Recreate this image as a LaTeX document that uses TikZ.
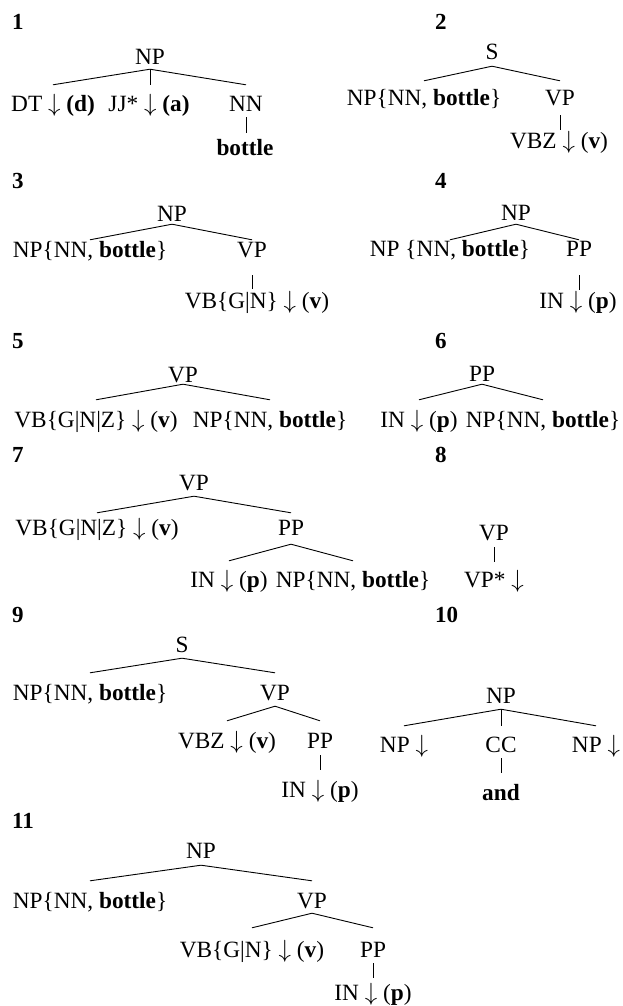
\documentclass[tikz,border=0pt]{standalone}
\usepackage{fontspec}
\setmainfont{Liberation Serif}
\newcommand{\dn}{$\downarrow$}
\newcommand{\lb}{\{}
\newcommand{\rb}{\}}
\newcommand{\vbar}{\textbar}
\begin{document}
\begin{tikzpicture}[x=1pt,y=-1pt,
  tn/.style={anchor=base, inner sep=0pt, text height=17pt, text depth=5pt, font=\fontsize{23.3}{27}\selectfont},
  lab/.style={anchor=base west, inner sep=0pt, font=\fontsize{23}{27}\selectfont\bfseries},
  conn/.style={line width=0.9pt}]
\useasboundingbox (0,0) rectangle (623,1006);

% ---- tree 1
\node[lab] (l1) at (12,30) {1};
\node[tn,text depth=4pt] (np1) at (150,65) {NP};
\node[tn,text height=27pt] (dt1) at (53,112) {DT \dn{} \textbf{(d)}};
\node[tn,text height=27pt] (jj1) at (149,112) {JJ* \dn{} \textbf{(a)}};
\node[tn,text height=27pt,text depth=5pt] (nn1) at (246,112) {NN};
\node[tn,text height=22pt] (bo1) at (245,155) {\textbf{bottle}};
\draw[conn] (np1.south) -- (dt1.north);
\draw[conn] (np1.south) -- (np1.south |- jj1.north);
\draw[conn] (np1.south) -- (nn1.north);
\draw[conn] (nn1.south) -- (nn1.south |- bo1.north);

% ---- tree 2
\node[lab] (l2) at (435,30) {2};
\node[tn,text depth=6pt] (s2) at (492,60) {S};
\node[tn,text height=25pt] (np2) at (424,106) {NP\lb NN, \textbf{bottle}\rb};
\node[tn,text height=25pt,text depth=9pt] (vp2) at (560,106) {VP};
\node[tn,text height=18pt] (vbz2) at (559,148) {VBZ \dn{} (\textbf{v})};
\draw[conn] (s2.south) -- (np2.north);
\draw[conn] (s2.south) -- (vp2.north);
\draw[conn] (vp2.south) -- (vp2.south |- vbz2.north);

% ---- tree 3
\node[lab] (l3) at (12,188) {3};
\node[tn,text depth=3pt] (np3) at (172,221) {NP};
\node[tn,text height=17pt] (np3b) at (90,257) {NP\lb NN, \textbf{bottle}\rb};
\node[tn,text height=17pt,text depth=18pt] (vp3) at (252,257) {VP};
\node[tn,text height=19pt] (vb3) at (257,308) {VB\lb G\vbar N\rb{} \dn{} (\textbf{v})};
\draw[conn] (np3.south) -- (np3b.north);
\draw[conn] (np3.south) -- (vp3.north);
\draw[conn] (vp3.south) -- (vp3.south |- vb3.north);

% ---- tree 4
\node[lab] (l4) at (435,188) {4};
\node[tn,text depth=4pt] (np4) at (516,220) {NP};
\node[tn,text height=16pt] (np4b) at (450,256) {NP \lb NN, \textbf{bottle}\rb};
\node[tn,text height=16pt,text depth=19pt] (pp4) at (579,256) {PP};
\node[tn,text height=18pt] (in4) at (578,308) {IN \dn{} (\textbf{p})};
\draw[conn] (np4.south) -- (np4b.north);
\draw[conn] (np4.south) -- (pp4.north);
\draw[conn] (pp4.south) -- (pp4.south |- in4.north);

% ---- tree 5
\node[lab] (l5) at (12,348) {5};
\node[tn,text depth=2pt] (vp5) at (183,382) {VP};
\node[tn,text height=27pt] (vb5) at (96,427) {VB\lb G\vbar N\vbar Z\rb{} \dn{} (\textbf{v})};
\node[tn,text height=27pt] (np5) at (270,427) {NP\lb NN, \textbf{bottle}\rb};
\draw[conn] (vp5.south) -- (vb5.north);
\draw[conn] (vp5.south) -- (np5.north);

% ---- tree 6
\node[lab] (l6) at (435,348) {6};
\node[tn,text depth=3pt] (pp6) at (482,381) {PP};
\node[tn,text height=27pt] (in6) at (419,427) {IN \dn{} (\textbf{p})};
\node[tn,text height=27pt] (np6) at (543,427) {NP\lb NN, \textbf{bottle}\rb};
\draw[conn] (pp6.south) -- (in6.north);
\draw[conn] (pp6.south) -- (np6.north);

% ---- tree 7
\node[lab] (l7) at (12,462) {7};
\node[tn,text depth=6pt] (vp7) at (194,490) {VP};
\node[tn,text height=22pt] (vb7) at (97,535) {VB\lb G\vbar N\vbar Z\rb{} \dn{} (\textbf{v})};
\node[tn,text height=22pt,text depth=9pt] (pp7) at (291,535) {PP};
\node[tn,text height=26pt] (in7) at (229,587) {IN \dn{} (\textbf{p})};
\node[tn,text height=26pt] (np7) at (353,587) {NP\lb NN, \textbf{bottle}\rb};
\draw[conn] (vp7.south) -- (vb7.north);
\draw[conn] (vp7.south) -- (pp7.north);
\draw[conn] (pp7.south) -- (in7.north);
\draw[conn] (pp7.south) -- (np7.north);

% ---- tree 8
\node[lab] (l8) at (435,462) {8};
\node[tn,text depth=7pt] (vp8) at (494,540) {VP};
\node[tn,text height=25pt] (vps8) at (494,587) {VP* \dn};
\draw[conn] (vp8.south) -- (vp8.south |- vps8.north);

% ---- tree 9
\node[lab] (l9) at (12,622) {9};
\node[tn,text depth=6pt] (s9) at (182,652) {S};
\node[tn,text height=27pt] (np9) at (90,700) {NP\lb NN, \textbf{bottle}\rb};
\node[tn,text height=27pt,text depth=6pt] (vp9) at (275,700) {VP};
\node[tn,text height=27pt] (vbz9) at (227,748) {VBZ \dn{} (\textbf{v})};
\node[tn,text height=27pt,text depth=7pt] (pp9) at (320,748) {PP};
\node[tn,text height=27pt] (in9) at (320,797) {IN \dn{} (\textbf{p})};
\draw[conn] (s9.south) -- (np9.north);
\draw[conn] (s9.south) -- (vp9.north);
\draw[conn] (vp9.south) -- (vbz9.north);
\draw[conn] (vp9.south) -- (pp9.north);
\draw[conn] (pp9.south) -- (pp9.south |- in9.north);

% ---- tree 10
\node[lab] (l10) at (435,622) {10};
\node[tn,text depth=6pt] (np10) at (501,703) {NP};
\node[tn,text height=26pt] (np10a) at (404,752) {NP \dn};
\node[tn,text height=26pt,text depth=6pt] (cc10) at (501,752) {CC};
\node[tn,text height=26pt] (np10b) at (596,752) {NP \dn};
\node[tn,text height=27pt] (and10) at (501,800) {\textbf{and}};
\draw[conn] (np10.south) -- (np10a.north);
\draw[conn] (np10.south) -- (cc10.north);
\draw[conn] (np10.south) -- (np10b.north);
\draw[conn] (cc10.south) -- (cc10.south |- and10.north);

% ---- tree 11
\node[lab] (l11) at (12,828) {11};
\node[tn,text depth=7pt] (np11) at (201,858) {NP};
\node[tn,text height=27pt] (np11b) at (90,908) {NP\lb NN, \textbf{bottle}\rb};
\node[tn,text height=27pt,text depth=5pt] (vp11) at (312,908) {VP};
\node[tn,text height=29pt] (vb11) at (252,957) {VB\lb G\vbar N\rb{} \dn{} (\textbf{v})};
\node[tn,text height=29pt,text depth=6pt] (pp11) at (373,957) {PP};
\node[tn,text height=22pt] (in11) at (373,1000) {IN \dn{} (\textbf{p})};
\draw[conn] (np11.south) -- (np11b.north);
\draw[conn] (np11.south) -- (vp11.north);
\draw[conn] (vp11.south) -- (vb11.north);
\draw[conn] (vp11.south) -- (pp11.north);
\draw[conn] (pp11.south) -- (pp11.south |- in11.north);
\end{tikzpicture}
\end{document}
